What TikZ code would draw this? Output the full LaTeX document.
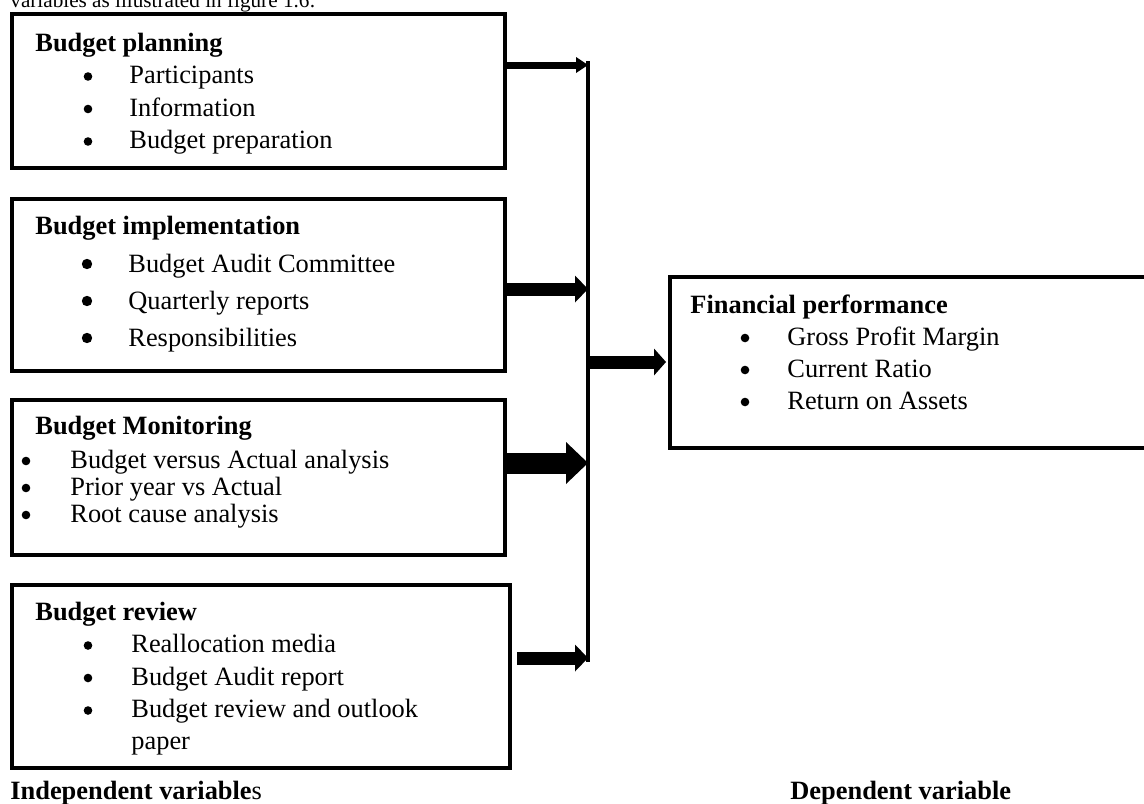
\documentclass[tikz,border=0pt]{standalone}
\usepackage{fontspec}
\setmainfont{Liberation Serif}
\usetikzlibrary{arrows.meta,positioning,fit}

\tikzset{
  box/.style={draw,line width=2pt,inner sep=0pt},
  txt/.style={anchor=base west,inner sep=0pt,font=\fontsize{13.2}{16}\selectfont},
  hd/.style={txt,font=\fontsize{13.2}{16}\selectfont\bfseries},
  dot/.style={circle,fill,draw=none,inner sep=0pt,minimum size=#1},
  dot/.default=4.3pt,
  feed/.style={line width=#1},
}

\begin{document}
\begin{tikzpicture}[x=0.5pt,y=-0.5pt]
\useasboundingbox (0,0) rectangle (1144,803);

\node [txt,font=\fontsize{10.6}{13}\selectfont] (lead) at (10,7) {variables as illustrated in figure 1.6:};

% budget planning
\node [box,fit={(12,14) (505,168)}] (plan) {};
\node [hd] (planh) at (35,51) {Budget planning};
\def\planitems{1/{Participants},2/{Information},3/{Budget preparation}}
\foreach \i / \element in \planitems {
  \node [dot] (pd\i) at (88,44+32.5*\i) {};
  \node [txt] (pt\i) at (129,51+32.5*\i) {\element};
}

% budget implementation
\node [box,fit={(12,199) (505,371)}] (impl) {};
\node [hd] (implh) at (35,234) {Budget implementation};
\def\implitems{1/{Budget Audit Committee},2/{Quarterly reports},3/{Responsibilities}}
\foreach \i / \element in \implitems {
  \node [dot=5.2pt] (id\i) at (87,227+37*\i) {};
  \node [txt] (it\i) at (128,235+37*\i) {\element};
}

% budget monitoring
\node [box,fit={(12,400) (505,555)}] (mon) {};
\node [hd] (monh) at (35,434) {Budget Monitoring};
\def\monitems{1/{Budget versus Actual analysis},2/{Prior year vs Actual},3/{Root cause analysis}}
\foreach \i / \element in \monitems {
  \node [dot] (md\i) at (26,434+27*\i) {};
  \node [txt] (mt\i) at (70,441+27*\i) {\element};
}

% budget review
\node [box,fit={(12,585) (510,768)}] (rev) {};
\node [hd] (revh) at (35,620) {Budget review};
\def\revitems{1/{Reallocation media},2/{Budget Audit report},3/{Budget review and outlook}}
\foreach \i / \element in \revitems {
  \node [dot] (rd\i) at (88,613+32.5*\i) {};
  \node [txt] (rt\i) at (131,620+32.5*\i) {\element};
}
\node [txt] (rt4) at (131,749) {paper};

% financial performance
\node [box,fit={(670,277) (1160,448)}] (fin) {};
\node [hd] (finh) at (690,313) {Financial performance};
\def\finitems{1/{Gross Profit Margin},2/{Current Ratio},3/{Return on Assets}}
\foreach \i / \element in \finitems {
  \node [dot] (fd\i) at (745,306+32*\i) {};
  \node [txt] (ft\i) at (787,313+32*\i) {\element};
}

% captions
\node [txt] (indep) at (10,799) {\textbf{Independent variable}s};
\node [txt] (dep) at (790,799) {\textbf{Dependent variable}};

% collecting line
\coordinate (top) at (588,61);
\coordinate (bot) at (588,662);
\coordinate (j1) at (588,65);
\coordinate (j2) at (588,289);
\coordinate (j3) at (588,463);
\coordinate (j4) at (588,658);
\coordinate (jm) at (588,362);
\draw [feed=2.25pt] (top) -- (bot);

\draw [feed=3.5pt,-{Triangle[length=6pt,width=8pt,line width=0pt]}] (plan.east |- j1) -- (j1);
\draw [feed=6.5pt,-{Triangle[length=6.5pt,width=13.5pt,line width=0pt]}] (impl.east |- j2) -- (j2);
\draw [feed=10.5pt,-{Triangle[length=11pt,width=21pt,line width=0pt]}] (mon.east |- j3) -- (j3);
\draw [feed=6.5pt,-{Triangle[length=6.5pt,width=13.5pt,line width=0pt]}] ([xshift=2.5pt]rev.east |- j4) -- (j4);
\draw [feed=6.5pt,-{Triangle[length=6pt,width=13.5pt,line width=0pt]}] (jm) -- ([xshift=-1pt]fin.west |- jm);

\end{tikzpicture}
\end{document}
